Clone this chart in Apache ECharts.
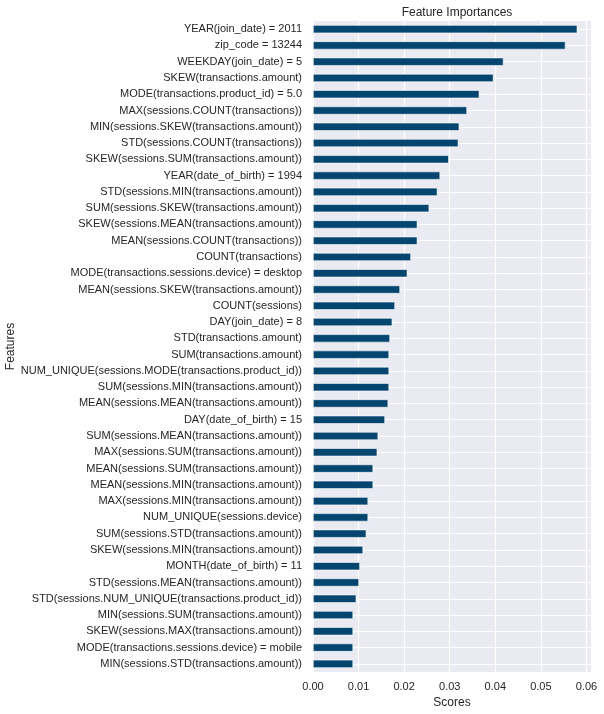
<!DOCTYPE html>
<html>
<head>
<meta charset="utf-8">
<script src="https://cdn.jsdelivr.net/npm/echarts@6/dist/echarts.min.js"></script>
<style>
html,body{margin:0;padding:0;background:#fff;}
#chart{width:604px;height:714px;}
</style>
</head>
<body>
<div id="chart"></div>
<script>
const features = [
  "YEAR(join_date) = 2011",
  "zip_code = 13244",
  "WEEKDAY(join_date) = 5",
  "SKEW(transactions.amount)",
  "MODE(transactions.product_id) = 5.0",
  "MAX(sessions.COUNT(transactions))",
  "MIN(sessions.SKEW(transactions.amount))",
  "STD(sessions.COUNT(transactions))",
  "SKEW(sessions.SUM(transactions.amount))",
  "YEAR(date_of_birth) = 1994",
  "STD(sessions.MIN(transactions.amount))",
  "SUM(sessions.SKEW(transactions.amount))",
  "SKEW(sessions.MEAN(transactions.amount))",
  "MEAN(sessions.COUNT(transactions))",
  "COUNT(transactions)",
  "MODE(transactions.sessions.device) = desktop",
  "MEAN(sessions.SKEW(transactions.amount))",
  "COUNT(sessions)",
  "DAY(join_date) = 8",
  "STD(transactions.amount)",
  "SUM(transactions.amount)",
  "NUM_UNIQUE(sessions.MODE(transactions.product_id))",
  "SUM(sessions.MIN(transactions.amount))",
  "MEAN(sessions.MEAN(transactions.amount))",
  "DAY(date_of_birth) = 15",
  "SUM(sessions.MEAN(transactions.amount))",
  "MAX(sessions.SUM(transactions.amount))",
  "MEAN(sessions.SUM(transactions.amount))",
  "MEAN(sessions.MIN(transactions.amount))",
  "MAX(sessions.MIN(transactions.amount))",
  "NUM_UNIQUE(sessions.device)",
  "SUM(sessions.STD(transactions.amount))",
  "SKEW(sessions.MIN(transactions.amount))",
  "MONTH(date_of_birth) = 11",
  "STD(sessions.MEAN(transactions.amount))",
  "STD(sessions.NUM_UNIQUE(transactions.product_id))",
  "MIN(sessions.SUM(transactions.amount))",
  "SKEW(sessions.MAX(transactions.amount))",
  "MODE(transactions.sessions.device) = mobile",
  "MIN(sessions.STD(transactions.amount))"
];
const scores = [
  0.0580, 0.0554, 0.0418, 0.0396, 0.0365, 0.0338, 0.0321, 0.0319, 0.0298, 0.0279,
  0.0273, 0.0255, 0.0229, 0.0229, 0.0215, 0.0207, 0.0191, 0.0180, 0.0174, 0.0169,
  0.0167, 0.0167, 0.0167, 0.0165, 0.0158, 0.0143, 0.0141, 0.0132, 0.0132, 0.0121,
  0.0121, 0.0117, 0.0110, 0.0103, 0.0101, 0.0095, 0.0088, 0.0088, 0.0088, 0.0088
];
const xTicks = [0, 0.01, 0.02, 0.03, 0.04, 0.05, 0.06];

const chart = echarts.init(document.getElementById('chart'), null, {renderer: 'canvas'});
const txt = '#262626';
const fontFam = '"Liberation Sans", Arial, sans-serif';
chart.setOption({
  animation: false,
  backgroundColor: '#ffffff',
  title: {
    text: 'Feature Importances',
    left: 452, top: 2, textAlign: 'center',
    textStyle: {color: txt, fontSize: 12, fontWeight: 'normal', fontFamily: fontFam}
  },
  grid: {left: 313, right: 13, top: 21, bottom: 42, show: true, backgroundColor: '#EAEAF2', borderWidth: 0},
  xAxis: {
    type: 'value',
    min: 0, max: 0.0610, interval: 0.01,
    name: 'Scores', nameLocation: 'middle', nameGap: 23,
    nameTextStyle: {color: txt, fontSize: 12, fontFamily: fontFam},
    axisLine: {show: false}, axisTick: {show: false},
    axisLabel: {color: txt, fontSize: 11, fontFamily: fontFam, margin: 9,
      showMaxLabel: false,
      formatter: v => xTicks.some(t => Math.abs(t - v) < 1e-9) ? v.toFixed(2) : ''},
    splitLine: {show: true, lineStyle: {color: '#ffffff', width: 1.2}}
  },
  yAxis: {
    type: 'category', inverse: true, data: features,
    name: 'Features', nameLocation: 'middle', nameGap: 294,
    nameTextStyle: {color: txt, fontSize: 12, fontFamily: fontFam},
    axisLine: {show: false}, axisTick: {show: false},
    axisLabel: {color: txt, fontSize: 11, fontFamily: fontFam, margin: 11, interval: 0},
    splitLine: {show: true, interval: 0, alignWithLabel: true, lineStyle: {color: '#ffffff', width: 1.2}}
  },
  series: [{
    type: 'bar', data: scores, barWidth: '50%',
    itemStyle: {color: '#04466F', borderColor: '#ffffff', borderWidth: 0.6},
    silent: true
  }]
});
</script>
</body>
</html>
